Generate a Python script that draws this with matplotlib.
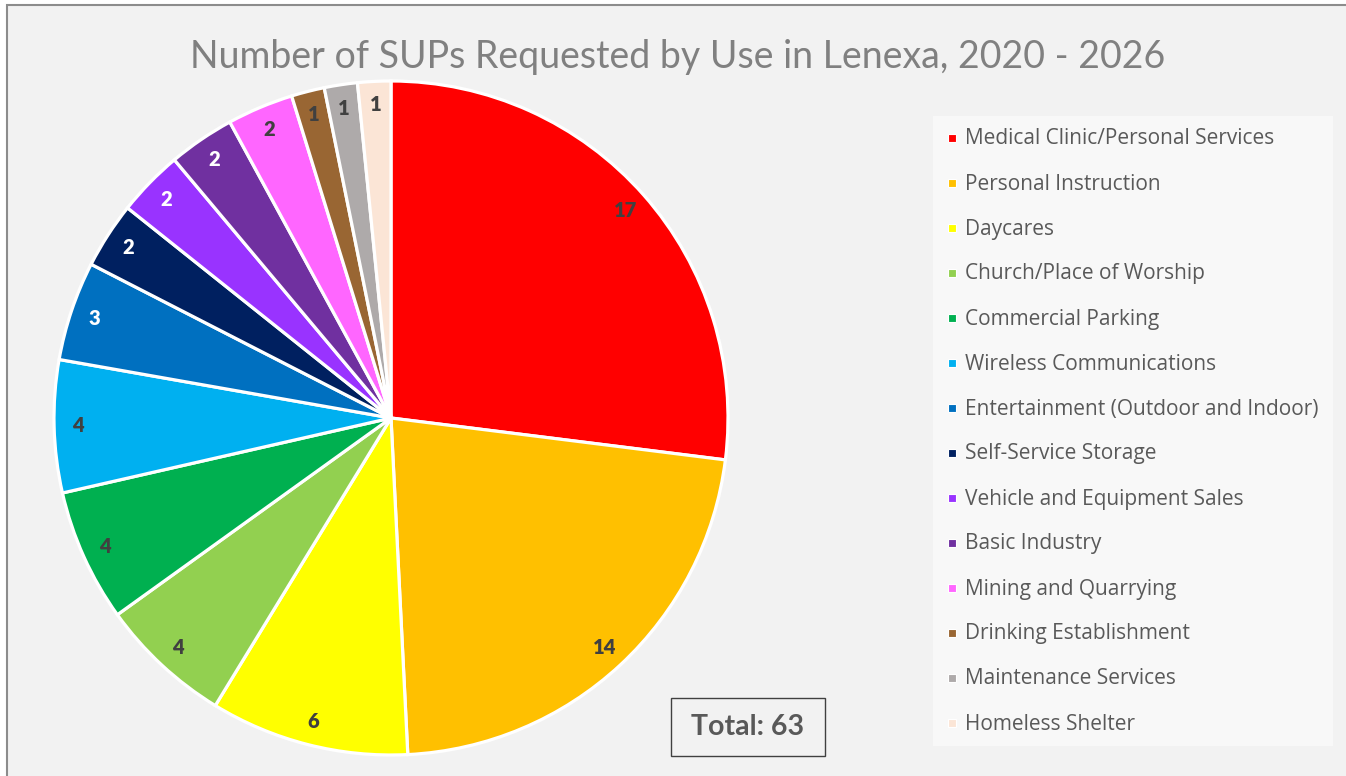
import matplotlib
matplotlib.use("Agg")
import matplotlib.pyplot as plt
from matplotlib.patches import Rectangle
from matplotlib import font_manager
import numpy as np

# --- data -------------------------------------------------------------
uses = [
    "Medical Clinic/Personal Services",
    "Personal Instruction",
    "Daycares",
    "Church/Place of Worship",
    "Commercial Parking",
    "Wireless Communications",
    "Entertainment (Outdoor and Indoor)",
    "Self-Service Storage",
    "Vehicle and Equipment Sales",
    "Basic Industry",
    "Mining and Quarrying",
    "Drinking Establishment",
    "Maintenance Services",
    "Homeless Shelter",
]
counts = [17, 14, 6, 4, 4, 4, 3, 2, 2, 2, 2, 1, 1, 1]
colors = [
    "#FF0000", "#FFC000", "#FFFF00", "#92D050", "#00B050", "#00B0F0",
    "#0070C0", "#002060", "#9933FF", "#7030A0", "#FF66FF", "#996633",
    "#AEAAAA", "#FBE5D6",
]
# labels drawn in white on the darker slices
white_label = {"Entertainment (Outdoor and Indoor)", "Self-Service Storage",
               "Vehicle and Equipment Sales", "Basic Industry"}

title = "Number of SUPs Requested by Use in Lenexa, 2020 - 2026"
total_text = f"Total: {sum(counts)}"

# --- fonts ------------------------------------------------------------
available = {f.name for f in font_manager.fontManager.ttflist}
def pick(*names):
    for n in names:
        if n in available:
            return n
    return "DejaVu Sans"

title_font = pick("Lato", "Open Sans")
label_font = pick("Lato", "Open Sans")
legend_font = pick("Open Sans", "Noto Sans")

W, H = 1346, 776
fig = plt.figure(figsize=(W / 100, H / 100), dpi=100, facecolor="white")

def fx(px):
    return px / W

def fy(py):
    return 1 - py / H

# chart area background with its border on the top and left
fig.patches.append(Rectangle((fx(7), -0.1), 1.2, fy(5) + 0.1,
                             transform=fig.transFigure,
                             facecolor="#F2F2F2", edgecolor="#8C8C8C",
                             linewidth=1.5, zorder=-5))

# --- pie --------------------------------------------------------------
cx, cy, R = 391, 418, 337
ax = fig.add_axes([fx(cx - R), fy(cy + R), fx(2 * R), (2 * R) / H])
ax.set_facecolor("none")
wedges, _ = ax.pie(counts, colors=colors, startangle=90, counterclock=False,
                   radius=1.0,
                   wedgeprops=dict(edgecolor="white", linewidth=2.3))
ax.set_xlim(-1, 1)
ax.set_ylim(-1, 1)
ax.set_aspect("equal")
ax.axis("off")

for w, name, v in zip(wedges, uses, counts):
    ang = np.deg2rad((w.theta1 + w.theta2) / 2)
    r = 0.93
    ax.text(r * np.cos(ang), r * np.sin(ang), str(v),
            ha="center", va="center", fontsize=14.5, fontweight="heavy",
            family=label_font,
            color="white" if name in white_label else "#404040")

# --- title ------------------------------------------------------------
fig.text(fx(678), fy(57), title, ha="center", va="center",
         fontsize=27, color="#808080", family=title_font)

# --- legend -----------------------------------------------------------
lx0, ly0, lx1, ly1 = 933, 116, 1333, 746
lax = fig.add_axes([fx(lx0), fy(ly1), fx(lx1 - lx0), (ly1 - ly0) / H])
lax.set_xlim(lx0, lx1)
lax.set_ylim(ly1, ly0)
lax.set_facecolor("#F8F8F8")
for s in lax.spines.values():
    s.set_visible(False)
lax.set_xticks([])
lax.set_yticks([])
for i, (name, c) in enumerate(zip(uses, colors)):
    y = 138 + 45 * i
    lax.add_patch(Rectangle((948, y - 4), 8, 8, facecolor=c,
                            edgecolor="white", linewidth=0.8))
    lax.text(965, y + 1, name, ha="left", va="center", fontsize=15,
             color="#595959", family=legend_font)

# --- total box --------------------------------------------------------
fig.text(fx(748), fy(727), total_text, ha="center", va="center",
         fontsize=20.5, fontweight="bold", color="#595959", family=label_font)
fig.patches.append(Rectangle((fx(671), fy(756)), fx(825 - 671), (756 - 698) / H,
                             transform=fig.transFigure, facecolor="none",
                             edgecolor="#404040", linewidth=1.0, zorder=3))

fig.savefig("out.png", dpi=100, facecolor=fig.get_facecolor())
